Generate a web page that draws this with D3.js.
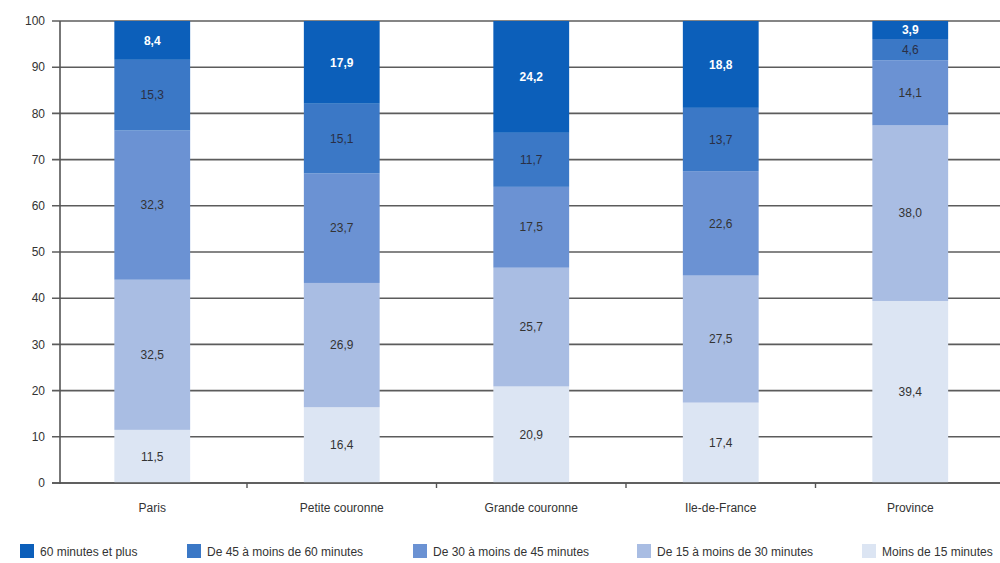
<!DOCTYPE html>
<html><head><meta charset="utf-8">
<script src="https://cdn.jsdelivr.net/npm/d3@7"></script>
<style>body{margin:0;background:#fff}svg{display:block;font-family:"Liberation Sans",Arial,sans-serif}</style>
</head><body><svg id="c" width="1000" height="563"></svg>
<script>
const categories = ["Paris","Petite couronne","Grande couronne","Ile-de-France","Province"];
const seriesNames = ["Moins de 15 minutes","De 15 à moins de 30 minutes","De 30 à moins de 45 minutes","De 45 à moins de 60 minutes","60 minutes et plus"];
const lt15 = [11.5,16.4,20.9,17.4,39.4];
const m15to30 = [32.5,26.9,25.7,27.5,38.0];
const m30to45 = [32.3,23.7,17.5,22.6,14.1];
const m45to60 = [15.3,15.1,11.7,13.7,4.6];
const m60plus = [8.4,17.9,24.2,18.8,3.9];
const yTicks = [0,10,20,30,40,50,60,70,80,90,100];
const legendOrder = [4,3,2,1,0];

const colors = ["#dce5f3","#a9bde3","#6b92d3","#3b78c6","#0c5fba"];
const textColors = ["#333","#333","#333","#2a2f45","#fff"];
const seriesValues = [lt15,m15to30,m30to45,m45to60,m60plus];
const rows = categories.map((c,i)=>{const r={cat:c}; seriesNames.forEach((s,j)=>r[s]=seriesValues[j][i]); return r;});
const stacked = d3.stack().keys(seriesNames)(rows);

const svg = d3.select("#c");
const x = d3.scaleBand().domain(categories).range([57.5,1005]).paddingInner(0.6).paddingOuter(0.3);
const y = d3.scaleLinear().domain([0,100]).range([483,21]);

// gridlines
svg.append("g").selectAll("line").data(yTicks).join("line")
  .attr("x1",52).attr("x2",1000).attr("y1",d=>y(d)).attr("y2",d=>y(d))
  .attr("stroke","#5c5c5c").attr("stroke-width",1.6);
svg.append("g").selectAll("text").data(yTicks).join("text")
  .attr("x",45).attr("y",d=>y(d)).attr("dy","0.35em").attr("text-anchor","end")
  .attr("font-size",12).attr("fill","#333").text(d=>d);

// bars
const g = svg.append("g");
stacked.forEach((s,j)=>{
  g.append("g").selectAll("rect").data(s).join("rect")
    .attr("x",d=>x(d.data.cat)).attr("width",x.bandwidth())
    .attr("y",d=>y(d[1])).attr("height",d=>y(d[0])-y(d[1]))
    .attr("fill",colors[j]);
  g.append("g").selectAll("text").data(s).join("text")
    .attr("x",d=>x(d.data.cat)+x.bandwidth()/2)
    .attr("y",d=>(y(d[0])+y(d[1]))/2).attr("dy","0.35em")
    .attr("text-anchor","middle").attr("font-size",12)
    .attr("font-weight",j===4?"bold":"normal")
    .attr("fill",textColors[j])
    .text(d=>d3.format(".1f")(d[1]-d[0]).replace(".",","));
});

// axes lines
svg.append("line").attr("x1",60).attr("x2",60).attr("y1",y(100)).attr("y2",y(0)+1).attr("stroke","#555").attr("stroke-width",1.6);
svg.append("line").attr("x1",52).attr("x2",1000).attr("y1",y(0)).attr("y2",y(0)).attr("stroke","#555").attr("stroke-width",1.6);
const step = x.step();
svg.append("g").selectAll("line").data(d3.range(1,5)).join("line")
  .attr("x1",d=>57.5+d*step).attr("x2",d=>57.5+d*step).attr("y1",y(0)).attr("y2",y(0)+5)
  .attr("stroke","#555").attr("stroke-width",1.4);
svg.append("g").selectAll("text").data(categories).join("text")
  .attr("x",d=>x(d)+x.bandwidth()/2).attr("y",512).attr("text-anchor","middle")
  .attr("font-size",12).attr("fill","#333").text(d=>d);

// legend
const legX = [20,187,413,637,862];
const lg = svg.append("g");
legendOrder.forEach((si,k)=>{
  lg.append("rect").attr("x",legX[k]).attr("y",544).attr("width",14).attr("height",14).attr("fill",colors[si]);
  lg.append("text").attr("x",legX[k]+20).attr("y",556).attr("font-size",12).attr("fill","#333").text(seriesNames[si]);
});
</script></body></html>
